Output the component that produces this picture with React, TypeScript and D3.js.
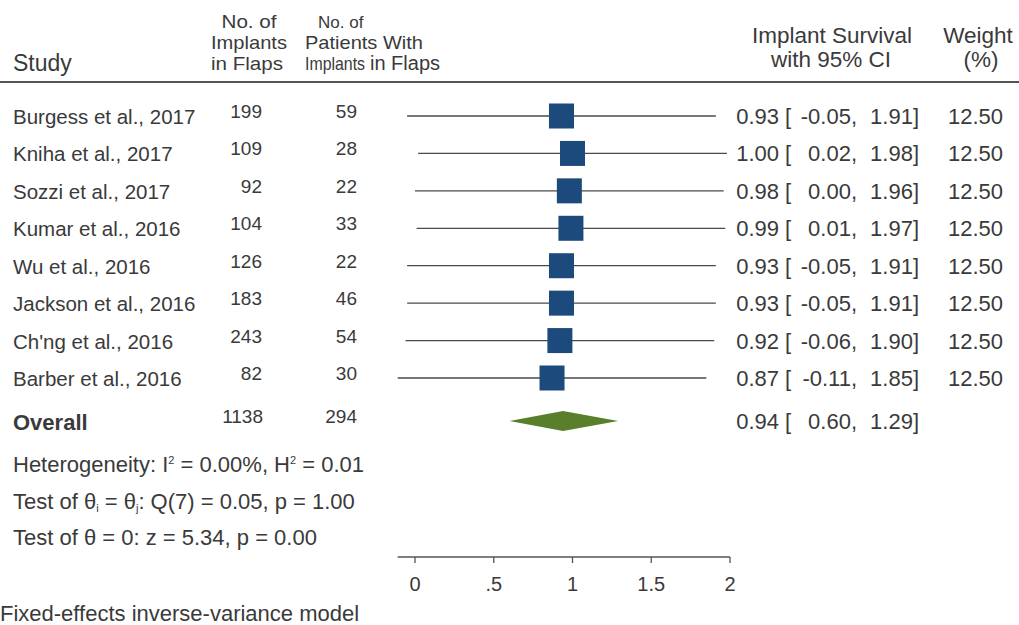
import React from "react";
import * as d3 from "d3";

const studies = [
  "Burgess et al., 2017",
  "Kniha et al., 2017",
  "Sozzi et al., 2017",
  "Kumar et al., 2016",
  "Wu et al., 2016",
  "Jackson et al., 2016",
  "Ch'ng et al., 2016",
  "Barber et al., 2016",
];
const implants = [199, 109, 92, 104, 126, 183, 243, 82];
const patients = [59, 28, 22, 33, 22, 46, 54, 30];
const estimates = [0.93, 1.0, 0.98, 0.99, 0.93, 0.93, 0.92, 0.87];
const lowers = [-0.05, 0.02, 0.0, 0.01, -0.05, -0.05, -0.06, -0.11];
const uppers = [1.91, 1.98, 1.96, 1.97, 1.91, 1.91, 1.9, 1.85];
const weights = [12.5, 12.5, 12.5, 12.5, 12.5, 12.5, 12.5, 12.5];
const overall = { implants: 1138, patients: 294, est: 0.94, lo: 0.6, hi: 1.29 };
const axisTicks = [0, 0.5, 1, 1.5, 2];
const tickLabels = ["0", ".5", "1", "1.5", "2"];

const W = 1019;
const H = 625;
const FONT = "'Liberation Sans', Arial, sans-serif";
const TXT = "#3a3a3a";

const fmt = d3
  .formatLocale({ decimal: ".", thousands: ",", grouping: [3], currency: ["", ""], minus: "-" })
  .format(".2f");

export default function App() {
  const x = d3.scaleLinear().domain([0, 2]).range([415, 730]);
  const y = d3.scalePoint<string>().domain(studies).range([116, 378]);
  const yOverall = 421;
  const axisY = 557;
  const axisMin = d3.min(lowers) as number;
  const sq = 25;
  const fsName = 20.5;
  const fsVal = 22;
  const fsNum = 19;
  const fsHead = 18.5;

  const diamond =
    d3.line()([
      [x(overall.lo), yOverall],
      [x(overall.est), yOverall - 10],
      [x(overall.hi), yOverall],
      [x(overall.est), yOverall + 10],
    ]) + "Z";

  return (
    <svg
      width={W}
      height={H}
      style={{ position: "absolute", left: 0, top: 0, background: "#fff" }}
      fontFamily={FONT}
      fill={TXT}
    >
      <rect x={0} y={0} width={W} height={H} fill="#fff" />
      {/* Header */}
      <g>
        <text x={13} y={71} fontSize={23}>Study</text>
        <text x={249} y={28} textAnchor="middle" fontSize={fsHead} textLength={55} lengthAdjust="spacingAndGlyphs">No. of</text>
        <text x={249} y={49} textAnchor="middle" fontSize={fsHead} textLength={76} lengthAdjust="spacingAndGlyphs">Implants</text>
        <text x={247} y={70} textAnchor="middle" fontSize={fsHead} textLength={72} lengthAdjust="spacingAndGlyphs">in Flaps</text>
        <text x={318} y={28} fontSize={17}>No. of</text>
        <text x={305} y={49} fontSize={fsHead} textLength={118} lengthAdjust="spacingAndGlyphs">Patients With</text>
        <text x={305} y={70} fontSize={fsHead} textLength={60} lengthAdjust="spacingAndGlyphs">Implants</text>
        <text x={370} y={70} fontSize={20}>in Flaps</text>
        <text x={832} y={43} textAnchor="middle" fontSize={22.5}>Implant Survival</text>
        <text x={831} y={67} textAnchor="middle" fontSize={22.5}>with 95% CI</text>
        <text x={978} y={43} textAnchor="middle" fontSize={22.5}>Weight</text>
        <text x={981} y={67} textAnchor="middle" fontSize={22.5}>(%)</text>
      </g>
      <line x1={0} x2={W} y1={82} y2={82} stroke="#555" strokeWidth={2} />

      {/* Study rows */}
      <g>
        {studies.map((s, i) => {
          const cy = y(s) as number;
          return (
            <g key={s}>
              <text x={13} y={cy + 8} fontSize={fsName}>{s}</text>
              <text x={262} y={cy + 2} textAnchor="end" fontSize={fsNum}>{implants[i]}</text>
              <text x={357} y={cy + 2} textAnchor="end" fontSize={fsNum}>{patients[i]}</text>
              <line x1={x(lowers[i])} x2={x(uppers[i])} y1={cy} y2={cy} stroke="#4a4a4a" strokeWidth={1.3} />
              <rect x={x(estimates[i]) - sq / 2} y={cy - sq / 2} width={sq} height={sq} fill="#1c4a7c" />
              <g fontSize={fsVal}>
                <text x={779} y={cy + 8} textAnchor="end">{fmt(estimates[i])}</text>
                <text x={785} y={cy + 8}>[</text>
                <text x={857} y={cy + 8} textAnchor="end">{fmt(lowers[i]) + ","}</text>
                <text x={919} y={cy + 8} textAnchor="end">{fmt(uppers[i]) + "]"}</text>
                <text x={1003} y={cy + 8} textAnchor="end">{fmt(weights[i])}</text>
              </g>
            </g>
          );
        })}
      </g>

      {/* Overall */}
      <g>
        <text x={13} y={yOverall + 9} fontWeight="bold" fontSize={22}>Overall</text>
        <text x={263} y={yOverall + 2} textAnchor="end" fontSize={fsNum}>{overall.implants}</text>
        <text x={357} y={yOverall + 2} textAnchor="end" fontSize={fsNum}>{overall.patients}</text>
        <path d={diamond} fill="#5a7f2a" />
        <g fontSize={fsVal}>
          <text x={779} y={yOverall + 8} textAnchor="end">{fmt(overall.est)}</text>
          <text x={785} y={yOverall + 8}>[</text>
          <text x={857} y={yOverall + 8} textAnchor="end">{fmt(overall.lo) + ","}</text>
          <text x={919} y={yOverall + 8} textAnchor="end">{fmt(overall.hi) + "]"}</text>
        </g>
      </g>

      {/* Stats */}
      <g fontSize={22}>
        <text x={13} y={472}>
          Heterogeneity: I<tspan dy={-8} fontSize={11}>2</tspan>
          <tspan dy={8}> = 0.00%, H</tspan>
          <tspan dy={-8} fontSize={11}>2</tspan>
          <tspan dy={8}> = 0.01</tspan>
        </text>
        <text x={13} y={509}>
          Test of θ<tspan dy={3} fontSize={11}>i</tspan>
          <tspan dy={-3}> = θ</tspan>
          <tspan dy={3} fontSize={11}>j</tspan>
          <tspan dy={-3}>: Q(7) = 0.05, p = 1.00</tspan>
        </text>
        <text x={13} y={545}>Test of θ = 0: z = 5.34, p = 0.00</text>
        <text x={0} y={621}>Fixed-effects inverse-variance model</text>
      </g>

      {/* Axis */}
      <g>
        <line x1={x(axisMin)} x2={x(2)} y1={axisY} y2={axisY} stroke="#555" strokeWidth={1.3} />
        {axisTicks.map((t, i) => (
          <g key={t}>
            <line x1={x(t)} x2={x(t)} y1={axisY} y2={axisY + 6} stroke="#555" strokeWidth={1.3} />
            <text x={x(t)} y={591} textAnchor="middle" fontSize={20}>{tickLabels[i]}</text>
          </g>
        ))}
      </g>
    </svg>
  );
}
